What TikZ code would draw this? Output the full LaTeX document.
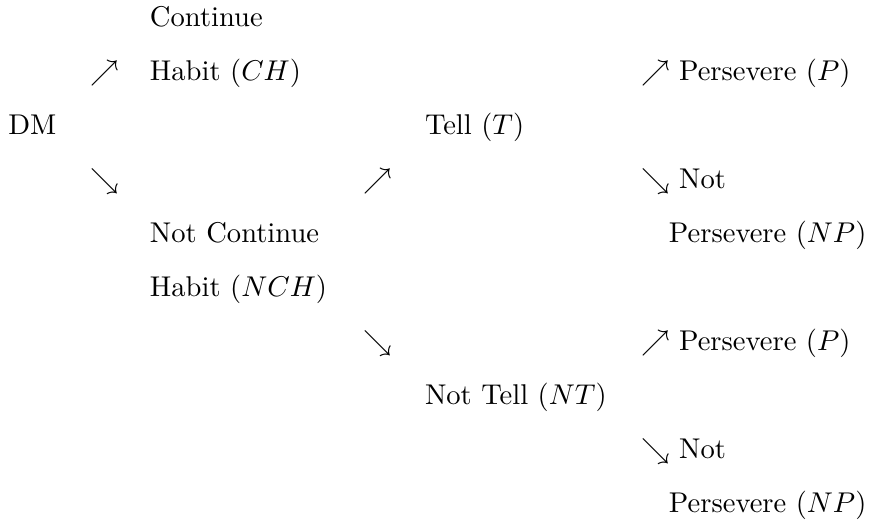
\documentclass[tikz,border=0pt]{standalone}
\begin{document}
% Decision tree laid out as rows of text; one unit = 0.35pt, y grows downwards
\begin{tikzpicture}[x=0.35pt,y=-0.35pt,
  every node/.style={inner sep=0pt, outer sep=0pt, anchor=base west}]
\useasboundingbox (0,0) rectangle (871,525);
% root
\node (dm) at (8.3,134) {DM};
% first branching
\node (up1) at (90.2,80) {$\nearrow$};
\node (dn1) at (90.2,188) {$\searrow$};
\node (ch1) at (150,26) {Continue};
\node (ch2) at (150,80) {Habit ($CH$)};
\node (nch1) at (150,242) {Not Continue};
\node (nch2) at (150,296) {Habit ($NCH$)};
% second branching
\node (up2) at (363.5,188) {$\nearrow$};
\node (dn2) at (363.5,350) {$\searrow$};
\node (t) at (425,134) {Tell ($T$)};
\node (nt) at (425,404) {Not Tell ($NT$)};
% outcomes
\node (tp) at (641,80) {$\nearrow$ Persevere ($P$)};
\node (tnp1) at (641,188) {$\searrow$ Not};
\node (tnp2) at (669,242) {Persevere ($NP$)};
\node (ntp) at (641,350) {$\nearrow$ Persevere ($P$)};
\node (ntnp1) at (641,458) {$\searrow$ Not};
\node (ntnp2) at (669,512) {Persevere ($NP$)};
\end{tikzpicture}
\end{document}
